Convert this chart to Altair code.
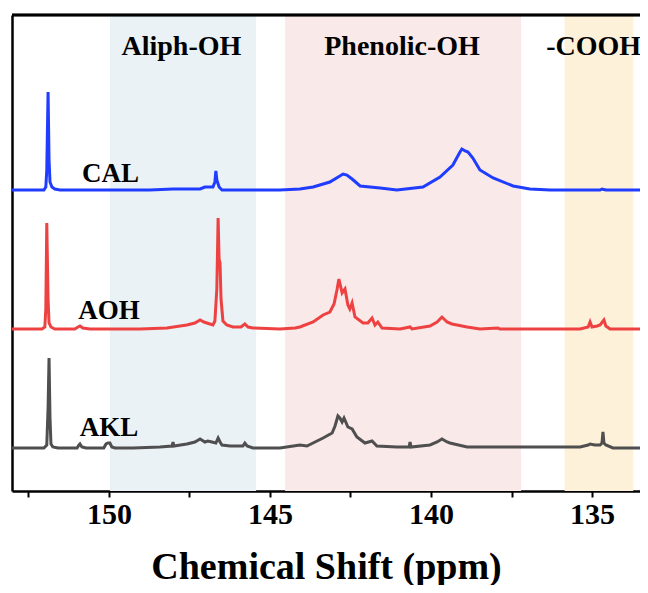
import altair as alt
import pandas as pd

# ---- data ----
series_names = ["CAL", "AOH", "AKL"]
series_colors = ["#1f3cff", "#ee4242", "#4f4f4f"]
series_offsets = [301, 162, 43]

cal_ppm = [153.01, 152.02, 151.96, 151.93, 151.89, 151.86, 151.83, 151.77, 151.68, 151.52,
           148.73, 148.01, 147.17, 147.02, 146.77, 146.71, 146.68, 146.65, 146.58, 146.49,
           144.69, 144.07, 143.66, 143.14, 142.73, 142.61, 142.45, 142.20, 141.58, 141.06,
           140.25, 139.72, 139.32, 139.10, 139.04, 138.94, 138.85, 138.70, 138.48, 138.07,
           137.45, 136.93, 136.30, 134.75, 134.69, 134.57, 133.29]
cal_int = [0, 0, 3, 20, 98, 30, 8, 3, 1, 0,
           0, 1, 1, 3, 3, 8, 19, 10, 3, 0,
           0, 1, 3, 8, 16, 15, 11, 4, 2, 0,
           3, 13, 25, 38, 41, 39, 38, 32, 20, 12,
           4, 1, 0, 0, 1, 0, 0]

aoh_ppm = [153.01, 152.08, 151.99, 151.96, 151.93, 151.89, 151.86, 151.80, 151.68, 151.06,
           150.96, 150.90, 150.81, 150.59, 149.04, 148.20, 147.58, 147.33, 147.17, 147.05,
           146.96, 146.77, 146.71, 146.65, 146.61, 146.58, 146.55, 146.52, 146.46, 146.34,
           146.15, 145.90, 145.78, 145.68, 145.53, 144.69, 144.22, 144.07, 143.66, 143.35,
           143.14, 143.01, 142.92, 142.86, 142.83, 142.76, 142.67, 142.58, 142.52, 142.45,
           142.36, 142.11, 141.96, 141.83, 141.74, 141.65, 141.52, 140.96, 140.65, 140.59,
           140.03, 139.81, 139.66, 139.50, 139.35, 138.88, 138.48, 137.92, 137.86, 135.37,
           135.12, 135.06, 135.00, 134.84, 134.75, 134.63, 134.57, 134.44, 133.29]
aoh_int = [0, 0, 2, 20, 106, 30, 6, 2, 0, 0,
           2, 3, 1, 0, 0, 1, 4, 6, 9, 7,
           6, 4, 8, 40, 111, 70, 66, 30, 8, 4,
           2, 2, 5, 2, 1, 0, 1, 2, 7, 14,
           17, 25, 39, 50, 46, 36, 40, 24, 20, 26,
           12, 6, 6, 11, 4, 7, 1, 0, 2, 0,
           3, 7, 12, 7, 5, 2, 0, 1, 0, 0,
           2, 7, 2, 3, 4, 9, 3, 0, 0]

akl_ppm = [153.01, 152.02, 151.93, 151.89, 151.86, 151.83, 151.80, 151.74, 151.58, 150.99,
           150.93, 150.90, 150.84, 150.71, 150.16, 150.09, 150.03, 149.97, 149.91, 149.81,
           149.25, 148.42, 148.04, 148.01, 147.98, 147.58, 147.33, 147.17, 147.02, 146.93,
           146.80, 146.68, 146.61, 146.55, 146.49, 146.24, 145.84, 145.78, 145.71, 145.53,
           144.69, 144.07, 143.85, 143.35, 143.07, 142.98, 142.89, 142.83, 142.76, 142.70,
           142.58, 142.45, 142.30, 142.05, 141.83, 141.68, 141.06, 140.68, 140.65, 140.62,
           140.03, 139.81, 139.66, 139.50, 139.41, 138.88, 137.92, 135.37, 135.12, 135.06,
           134.91, 134.75, 134.69, 134.66, 134.63, 134.57, 134.35, 133.29]
akl_int = [0, 0, 3, 40, 90, 30, 4, 1, 0, 0,
           3, 4, 1, 0, 0, 4, 5, 5, 1, 0,
           0, 1, 2, 6, 2, 4, 6, 9, 6, 7,
           6, 5, 10, 6, 3, 2, 2, 5, 2, 0,
           0, 3, 2, 10, 15, 22, 32, 30, 26, 30,
           21, 19, 11, 5, 7, 2, 1, 1, 6, 1,
           3, 6, 9, 6, 5, 1, 1, 1, 3, 4,
           3, 3, 5, 16, 5, 3, 0, 0]

band_names = ["Aliph-OH", "Phenolic-OH", "-COOH"]
band_start = [149.97, 144.53, 135.85]
band_end = [145.43, 137.20, 133.72]
band_colors = ["#eaf2f6", "#f9e9e9", "#fdf1da"]
band_label_ppm = [147.75, 140.90, 134.95]

x_ticks = [152.5, 150, 147.5, 145, 142.5, 140, 137.5, 135]
x_domain = [133.51, 153.01]
y_domain = [0, 476]

# ---- tables ----
rows = []
for name, off, ppm, inten in [
    ("CAL", series_offsets[0], cal_ppm, cal_int),
    ("AOH", series_offsets[1], aoh_ppm, aoh_int),
    ("AKL", series_offsets[2], akl_ppm, akl_int),
]:
    for p, v in zip(ppm, inten):
        rows.append({"series": name, "ppm": p, "signal": v + off})
spec_df = pd.DataFrame(rows)

band_df = pd.DataFrame({
    "band": band_names, "start": band_start, "end": band_end,
    "color": band_colors, "center": band_label_ppm,
})

label_df = pd.DataFrame({
    "series": series_names,
    "ppm": [149.95, 150.0, 150.0],
    "ly": [series_offsets[0] + 8, series_offsets[1] + 10, series_offsets[2] + 12],
})

FONT = "Liberation Serif"

xscale = alt.Scale(domain=x_domain, reverse=True, nice=False, zero=False)
yscale = alt.Scale(domain=y_domain, nice=False, zero=False)

xaxis = alt.Axis(
    values=x_ticks,
    labelExpr="datum.value % 5 == 0 ? datum.label : ''",
    format="d",
    title="Chemical Shift (ppm)",
    grid=False,
    domainColor="black", domainWidth=2.5,
    tickColor="black", tickWidth=2, tickSize=6,
    labelFont=FONT, labelFontSize=30, labelFontWeight="bold", labelColor="black",
    labelPadding=2,
    titleFont=FONT, titleFontSize=38, titleFontWeight="bold", titleColor="black",
    titlePadding=19,
    labelFlush=False,
)
yaxis = alt.Axis(
    title=None, labels=False, ticks=False, grid=False,
    domainColor="black", domainWidth=2.5,
)

bands = alt.Chart(band_df).mark_rect(opacity=1).encode(
    x=alt.X("start:Q", scale=xscale, axis=xaxis),
    x2="end:Q",
    color=alt.Color("band:N", scale=alt.Scale(domain=band_names, range=band_colors), legend=None),
)

band_text = alt.Chart(band_df).mark_text(
    font=FONT, fontSize=28, fontWeight="bold", color="black", baseline="middle", align="center"
).encode(
    x=alt.X("center:Q", scale=xscale),
    y=alt.value(32),
    text="band:N",
)

lines = alt.Chart(spec_df).mark_line(strokeWidth=3, clip=True, interpolate="linear").encode(
    x=alt.X("ppm:Q", scale=xscale),
    y=alt.Y("signal:Q", scale=yscale, axis=yaxis),
    stroke=alt.Stroke("series:N", scale=alt.Scale(domain=series_names, range=series_colors), legend=None),
    detail="series:N",
)

labels = alt.Chart(label_df).mark_text(
    font=FONT, fontSize=27, fontWeight="bold", color="black", baseline="alphabetic", align="center"
).encode(
    x=alt.X("ppm:Q", scale=xscale),
    y=alt.Y("ly:Q", scale=yscale),
    text="series:N",
)

top_border = alt.Chart(band_df).mark_rule(color="black", strokeWidth=2.5).encode(
    y=alt.value(0)
)

chart = alt.layer(bands, band_text, lines, labels, top_border).resolve_scale(
    color="independent"
).properties(
    width=628, height=476,
    autosize=alt.AutoSizeParams(type="none"),
    padding={"left": 4, "top": 7, "right": 0, "bottom": 94},
).configure_view(stroke=None).configure(background="white")

chart.save("out.html", embed_options={"renderer": "svg", "actions": False})
